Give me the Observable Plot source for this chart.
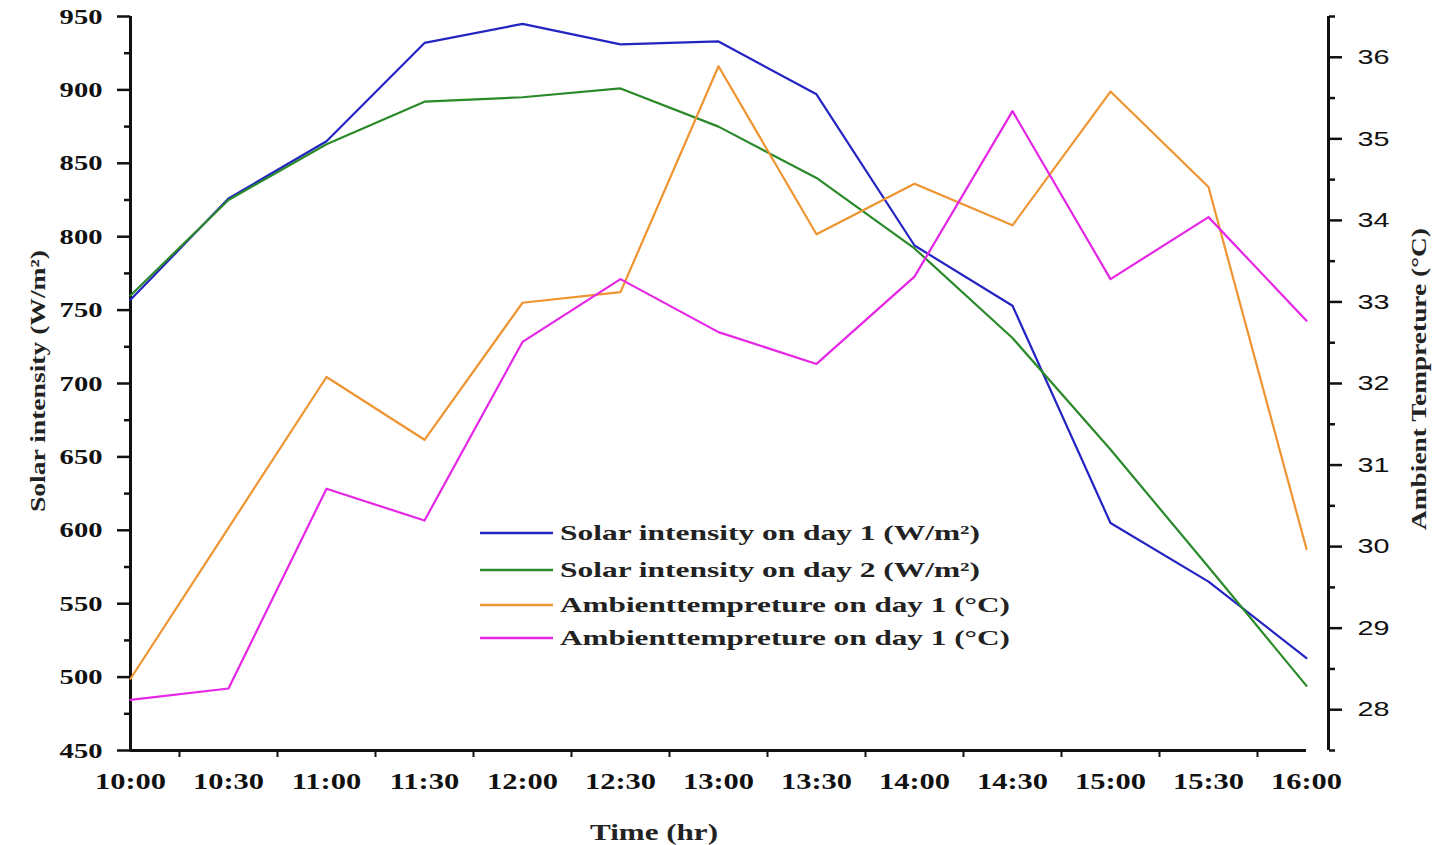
<!DOCTYPE html>
<html>
<head>
<meta charset="utf-8">
<script src="https://cdn.jsdelivr.net/npm/d3@7"></script>
<script src="https://cdn.jsdelivr.net/npm/@observablehq/plot@0.6"></script>
<style>
  html, body { margin: 0; padding: 0; background: #fff; }
  #chart svg { display: block; }
</style>
</head>
<body>
<div id="chart"></div>
<script>
// ---- data ----
const timeLabels = ["10:00","10:30","11:00","11:30","12:00","12:30","13:00","13:30","14:00","14:30","15:00","15:30","16:00"];
const hours      = [10, 10.5, 11, 11.5, 12, 12.5, 13, 13.5, 14, 14.5, 15, 15.5, 16];
const solarDay1  = [757, 826, 865, 932, 945, 931, 933, 897, 794, 753, 605, 565, 513];
const solarDay2  = [760, 825, 863, 892, 895, 901, 875, 840, 792, 731, 655, 575, 494];
const tempDay1   = [28.38, 30.23, 32.08, 31.31, 32.99, 33.12, 35.89, 33.83, 34.45, 33.94, 35.58, 34.41, 29.97];
const tempDay2   = [28.12, 28.26, 30.71, 30.32, 32.51, 33.28, 32.63, 32.24, 33.31, 35.34, 33.28, 34.04, 32.77];
const solarTicks = [450, 500, 550, 600, 650, 700, 750, 800, 850, 900, 950];
const tempTicks  = [28, 29, 30, 31, 32, 33, 34, 35, 36];
const seriesNames = [
  "Solar intensity on day 1 (W/m\u00B2)",
  "Solar intensity on day 2 (W/m\u00B2)",
  "Ambienttempreture on day 1 (\u00B0C)",
  "Ambienttempreture on day 1 (\u00B0C)"
];
const colors = ["#2424c2", "#2a8a2a", "#ee9430", "#e526e5"];

// ---- scales ----
const solarDomain = [450, 950];
const tempDomain = [27.5, 36.5];
const toLeft = t => solarDomain[0] + (t - tempDomain[0]) * (solarDomain[1] - solarDomain[0]) / (tempDomain[1] - tempDomain[0]);
const fromLeft = v => tempDomain[0] + (v - solarDomain[0]) * (tempDomain[1] - tempDomain[0]) / (solarDomain[1] - solarDomain[0]);

const rows = [];
hours.forEach((h, i) => {
  rows.push({h, v: solarDay1[i], s: 0});
  rows.push({h, v: solarDay2[i], s: 1});
  rows.push({h, v: toLeft(tempDay1[i]), s: 2});
  rows.push({h, v: toLeft(tempDay2[i]), s: 3});
});

const minorSolar = solarTicks.slice(0, -1).map(d => d + 25);
const minorTemp = [27.5, ...tempTicks.map(d => d + 0.5)];
const quarterTicks = hours.slice(0, -1).map(d => d + 0.25);

const W = 1437, H = 845;
const mL = 130, mR = 109, mT = 16, mB = 95;
const xEnd = 16 + (W - mL - mR - (1306 - 130)) / ((1306 - 130) / 6);

const serif = "'Liberation Serif', 'Times New Roman', serif";
const sans = "'Liberation Sans', Arial, sans-serif";

const chart = Plot.plot({
  width: W, height: H,
  marginLeft: mL, marginRight: mR, marginTop: mT, marginBottom: mB,
  style: {background: "#fff", color: "#111", fontFamily: serif},
  x: {domain: [10, xEnd]},
  y: {domain: solarDomain},
  marks: [
    Plot.axisY({ticks: solarTicks, tickSize: 13, tickPadding: 15, strokeWidth: 2.5, tickFormat: d => String(d),
      fontSize: 22, fontWeight: "bold", fontFamily: serif, label: null}),
    Plot.axisY({ticks: minorSolar, tickSize: 6, strokeWidth: 2.5, tickFormat: () => "", label: null}),
    Plot.axisX({ticks: hours, tickSize: 0, tickPadding: 21, tickFormat: d => timeLabels[Math.round((d - 10) * 2)],
      fontSize: 24, fontWeight: "bold", fontFamily: serif, label: null}),
    Plot.axisX({ticks: quarterTicks, tickSize: 7, strokeWidth: 2, tickFormat: () => "", label: null}),
    Plot.axisY({anchor: "right", ticks: tempTicks.map(toLeft), tickSize: 13, tickPadding: 16, strokeWidth: 2.5,
      tickFormat: d => String(Math.round(fromLeft(d))), fontSize: 21, fontFamily: sans, label: null}),
    Plot.axisY({anchor: "right", ticks: minorTemp.map(toLeft), tickSize: 6, strokeWidth: 2.5, tickFormat: () => "", label: null}),
    Plot.ruleX([10], {y1: solarDomain[0], y2: solarDomain[1], stroke: "#111", strokeWidth: 3}),
    Plot.ruleX([xEnd], {y1: solarDomain[0], y2: solarDomain[1], stroke: "#111", strokeWidth: 3}),
    Plot.ruleY([solarDomain[0]], {x1: 10, x2: 16, stroke: "#111", strokeWidth: 3}),
    Plot.line(rows, {x: "h", y: "v", z: "s", stroke: d => colors[d.s], strokeWidth: 2.2, strokeLinejoin: "round"})
  ]
});

document.getElementById("chart").appendChild(chart);

// ---- horizontal stretch of text, as in the reference ----
function stretch(node, factor, target) {
  const L = node.getComputedTextLength();
  node.setAttribute("textLength", target != null ? target : L * factor);
  node.setAttribute("lengthAdjust", "spacingAndGlyphs");
}
const svg = d3.select(chart);
svg.selectAll('g[aria-label="y-axis tick label"]').each(function () {
  const right = this.getAttribute("text-anchor") === "start";
  d3.select(this).selectAll("text").each(function () { stretch(this, right ? 1.37 : 1.3); });
});
svg.selectAll('g[aria-label="x-axis tick label"] text').each(function () { stretch(this, 1.27); });

// ---- titles & legend ----
const yMid = mT + (H - mT - mB) / 2;

const lt = svg.append("text")
  .attr("transform", `translate(45,${yMid - 2}) rotate(-90)`)
  .attr("text-anchor", "middle")
  .style("font-family", serif).style("font-weight", "bold").style("font-size", "22px")
  .attr("fill", "#222").text("Solar intensity (W/m\u00B2)");
stretch(lt.node(), 1, 262);

const rt = svg.append("text")
  .attr("transform", `translate(1426,${yMid - 4}) rotate(-90)`)
  .attr("text-anchor", "middle")
  .style("font-family", serif).style("font-weight", "bold").style("font-size", "22px")
  .attr("fill", "#222").text("Ambient Tempreture (\u00B0C)");
stretch(rt.node(), 1, 302);

const xt = svg.append("text")
  .attr("x", 654).attr("y", 840)
  .attr("text-anchor", "middle")
  .style("font-family", serif).style("font-weight", "bold").style("font-size", "23px")
  .attr("fill", "#222").text("Time (hr)");
stretch(xt.node(), 1, 128);

const leg = svg.append("g");
const legY = [533, 570, 605, 638];
const legLen = [420, 420, 450, 450];
seriesNames.forEach((name, i) => {
  leg.append("line").attr("x1", 480).attr("x2", 553).attr("y1", legY[i]).attr("y2", legY[i])
    .attr("stroke", colors[i]).attr("stroke-width", 2.4);
  const t = leg.append("text").attr("x", 560).attr("y", legY[i] + 7)
    .attr("text-anchor", "start")
    .style("font-family", serif).style("font-weight", "bold").style("font-size", "22px")
    .attr("fill", "#222").text(name);
  stretch(t.node(), 1, legLen[i]);
});
</script>
</body>
</html>
